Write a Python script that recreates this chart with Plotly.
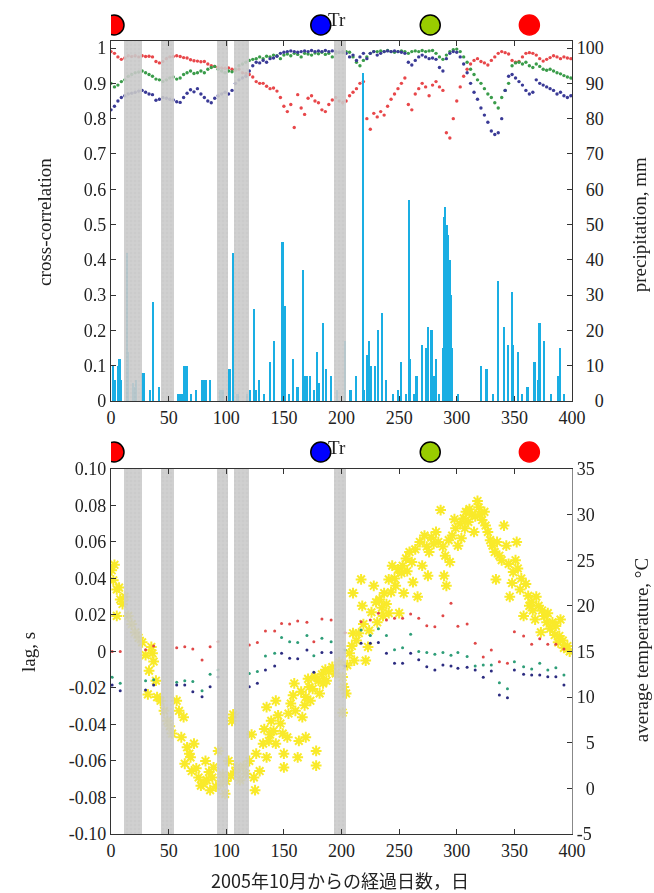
import plotly.graph_objects as go

# ---------------- data ----------------
corr_days = list(range(0, 400, 3))
corr_red = [0.99, 0.985, 0.975, 0.968, 0.972, 0.978, 0.976, 0.978, 0.975, 0.978,
            0.976, 0.977, 0.975, 0.962, 0.958, 0.962, 0.97, 0.975, 0.976, 0.978,
            0.976, 0.973, 0.972, 0.967, 0.964, 0.963, 0.961, 0.962, 0.955, 0.95,
            0.948, 0.945, 0.944, 0.943, 0.944, 0.94, 0.937, 0.94, 0.93, 0.928,
            0.925, 0.918, 0.905, 0.9, 0.9, 0.892, 0.885, 0.887, 0.878, 0.86,
            0.835, 0.82, 0.84, 0.775, 0.868, 0.83, 0.812, 0.858, 0.865, 0.85,
            0.845, 0.825, 0.82, 0.84, 0.853, 0.86, 0.85, 0.845, 0.85, 0.865,
            0.875, 0.885, 0.9, 0.905, 0.8, 0.77, 0.815, 0.805, 0.82, 0.81,
            0.835, 0.855, 0.87, 0.885, 0.9, 0.915, 0.84, 0.825, 0.87, 0.885,
            0.9, 0.89, 0.865, 0.895, 0.905, 0.89, 0.88, 0.76, 0.745, 0.8,
            0.85, 0.89, 0.92, 0.94, 0.955, 0.965, 0.97, 0.962, 0.958, 0.952,
            0.965, 0.975, 0.985, 0.99, 0.987, 0.983, 0.965, 0.96, 0.962, 0.975,
            0.985, 0.987, 0.985, 0.98, 0.97, 0.963, 0.968, 0.973, 0.978, 0.975,
            0.97, 0.975, 0.972, 0.97]
corr_green = [0.9, 0.89, 0.895, 0.905, 0.91, 0.92, 0.925, 0.93, 0.932, 0.935,
              0.93, 0.925, 0.92, 0.912, 0.91, 0.905, 0.91, 0.915, 0.918, 0.912,
              0.915, 0.925, 0.93, 0.935, 0.928, 0.93, 0.935, 0.93, 0.94, 0.945,
              0.948, 0.94, 0.935, 0.93, 0.935, 0.933, 0.94, 0.95, 0.955, 0.96,
              0.965, 0.968, 0.97, 0.975, 0.97, 0.977, 0.975, 0.98, 0.978, 0.97,
              0.98, 0.983, 0.978, 0.985, 0.982, 0.975, 0.985, 0.983, 0.98, 0.986,
              0.984, 0.988, 0.982, 0.985, 0.975, 0.985, 0.988, 0.987, 0.99, 0.988,
              0.975, 0.96, 0.95, 0.965, 0.975, 0.985, 0.99, 0.99, 0.992, 0.99,
              0.993, 0.99, 0.988, 0.99, 0.992, 0.99, 0.985, 0.99, 0.992, 0.99,
              0.993, 0.99, 0.992, 0.993, 0.985, 0.975, 0.968, 0.98, 0.99, 0.995,
              0.997, 0.99, 0.975, 0.96, 0.94, 0.925, 0.91, 0.9, 0.885, 0.87,
              0.86, 0.845, 0.83, 0.86, 0.88, 0.9, 0.95, 0.958, 0.96, 0.955,
              0.96, 0.95, 0.945, 0.955, 0.948, 0.94, 0.937, 0.94, 0.935, 0.93,
              0.927, 0.922, 0.918, 0.915]
corr_blue = [0.825, 0.835, 0.85, 0.86, 0.865, 0.87, 0.872, 0.875, 0.878, 0.88,
             0.875, 0.87, 0.868, 0.852, 0.855, 0.86, 0.858, 0.855, 0.853, 0.848,
             0.846, 0.86, 0.872, 0.882, 0.876, 0.885, 0.87, 0.86, 0.85, 0.845,
             0.858, 0.865, 0.87, 0.875, 0.87, 0.88, 0.9, 0.91, 0.915, 0.92,
             0.935, 0.95, 0.96, 0.958, 0.965, 0.96, 0.97, 0.972, 0.977, 0.985,
             0.988, 0.99, 0.992, 0.99, 0.988, 0.99, 0.992, 0.99, 0.993, 0.99,
             0.992, 0.99, 0.993, 0.99, 0.992, 0.99, 0.988, 0.99, 0.985, 0.975,
             0.98, 0.965, 0.975, 0.985, 0.97, 0.985, 0.99, 0.98, 0.985, 0.99,
             0.992, 0.99, 0.992, 0.99, 0.988, 0.985, 0.96, 0.952, 0.965, 0.975,
             0.98, 0.975, 0.97, 0.972, 0.968, 0.945, 0.935, 0.97, 0.985, 0.99,
             0.988, 0.975, 0.955, 0.93, 0.9, 0.875, 0.855, 0.83, 0.81, 0.79,
             0.765, 0.755, 0.76, 0.8, 0.88, 0.92, 0.925, 0.915, 0.905, 0.895,
             0.88, 0.87, 0.875, 0.91, 0.9, 0.895, 0.89, 0.885, 0.88, 0.87,
             0.875, 0.865, 0.86, 0.865]

precip_days = [2, 3, 4, 6, 7, 8, 9, 14, 15, 19, 20, 22, 27, 29, 34, 37, 42, 58, 60, 62,
               64, 65, 66, 70, 74, 79, 81, 83, 86, 95, 97, 103, 106, 110, 118, 121, 124, 126, 129, 133,
               138, 142, 149, 151, 155, 158, 162, 167, 169, 170, 173, 176, 179, 181, 184, 187, 191, 196, 203, 208,
               213, 219, 220, 222, 224, 226, 229, 232, 235, 239, 245, 249, 252, 256, 259, 260, 263, 265, 266, 270,
               274, 275, 278, 279, 280, 282, 285, 288, 289, 290, 291, 292, 293, 294, 295, 296, 301, 321, 326, 332,
               336, 341, 345, 348, 349, 353, 357, 361, 362, 367, 368, 371, 372, 376, 382, 388, 390, 393]
precip_mm = [10, 4, 6, 10, 12, 12, 6, 42, 14, 5, 4, 6, 8, 8, 3, 28, 4, 2, 2, 2,
             10, 7, 10, 2, 3, 6, 6, 6, 6, 3, 3, 9, 42, 2, 2, 3, 26, 3, 6, 2,
             11, 17, 45, 27, 2, 12, 4, 37, 7, 7, 7, 3, 14, 5, 22, 9, 7, 3, 17, 3,
             7, 93, 3, 13, 17, 10, 10, 20, 25, 6, 2, 3, 11, 2, 57, 12, 2, 7, 7, 16,
             15, 21, 20, 20, 7, 12, 2, 15, 52, 55, 45, 50, 47, 40, 30, 15, 2, 10, 9, 2,
             34, 21, 16, 31, 16, 14, 2, 4, 4, 11, 11, 6, 22, 17, 2, 7, 15, 2]

lag_days = [1, 8, 30, 37, 57, 64, 71, 79, 86, 93, 120, 127, 134, 142, 148, 155, 162, 170, 176, 183,
            191, 203, 217, 225, 232, 239, 246, 253, 260, 267, 274, 281, 288, 295, 301, 309, 316, 323, 330, 337,
            344, 350, 358, 365, 372, 379, 386, 393]
lag_red = [0.000, 0.000, 0.001, 0.003, 0.002, 0.0026, 0.0014, -0.0047, 0.0026, 0.0054,
           0.0036, 0.0049, 0.0112, 0.0112, 0.0154, 0.0150, 0.0167, 0.016, 0.0054, 0.0178,
           0.0173, 0.0103, 0.0163, 0.0173, 0.0209, 0.0173, 0.0182, 0.0182, 0.0205, 0.0182,
           0.0141, 0.0136, 0.0196, 0.0264, 0.0138, 0.015, 0.0045, -0.003, 0.0008, -0.0056,
           -0.0064, 0.0108, 0.0085, 0.004, 0.007, 0.004, 0.004, 0.0014]
lag_green = [-0.0141, -0.0174, -0.016, -0.0155, -0.0169, -0.016, -0.0165, -0.0215, -0.0125, -0.0101,
             -0.012, -0.011, -0.0025, -0.001, 0.0076, 0.0054, 0.0049, 0.0087, -0.0023, 0.0072,
             0.0054, 0.0008, 0.0118, 0.0087, 0.0125, 0.0087, 0.001, 0.0021, 0.0094, 0.0,
             -0.0005, -0.0015, -0.0005, -0.002, -0.0005, -0.0028, -0.0079, -0.0074, -0.0074, -0.0171,
             -0.0204, -0.0056, -0.0083, -0.0096, -0.0064, -0.0101, -0.0089, -0.0129]
lag_blue = [-0.0184, -0.0215, -0.0211, -0.0184, -0.0184, -0.0184, -0.022, -0.0248, -0.0193, -0.014,
            -0.0193, -0.0174, -0.0101, -0.0079, -0.001, -0.0037, -0.004, 0.0008, -0.0114, -0.0005,
            -0.0005, -0.0079, 0.0045, 0.0045, 0.0049, -0.001, -0.0064, -0.0064, -0.001, -0.0045,
            -0.0083, -0.0101, -0.0074, -0.008, -0.0092, -0.0087, -0.0101, -0.0141, -0.0107, -0.0238,
            -0.0253, -0.0101, -0.0125, -0.0129, -0.0129, -0.0138, -0.0138, -0.0184]

temp_days = [0.6, 2, 3, 5, 5, 7, 8, 10, 12, 15, 18, 21, 24, 27, 30, 32, 33, 35, 36, 37,
             39, 40, 43, 46, 49, 51, 53, 57, 59, 61, 63, 64, 66, 68, 69, 70, 72, 74, 76, 78,
             80, 82, 83, 85, 86, 88, 89, 91, 93, 95, 97, 99, 100, 102, 104, 105, 106, 108, 109, 112,
             115, 117, 120, 122, 124, 125, 126, 129, 132, 133, 135, 135, 137, 138, 139, 141, 143, 143, 145, 147,
             149, 150, 150, 153, 154, 156, 158, 159, 160, 162, 163, 165, 166, 168, 169, 169, 171, 172, 173, 175,
             177, 178, 178, 180, 181, 183, 184, 186, 187, 189, 192, 195, 198, 201, 201, 202, 204, 205, 207, 209,
             210, 210, 211, 213, 215, 217, 218, 219, 221, 223, 224, 226, 228, 230, 231, 233, 235, 236, 237, 239,
             241, 241, 243, 244, 246, 247, 249, 250, 252, 253, 254, 256, 257, 259, 261, 262, 264, 266, 268, 270,
             272, 274, 275, 276, 278, 280, 282, 284, 286, 288, 289, 290, 291, 293, 294, 296, 298, 299, 301, 303,
             304, 306, 307, 308, 310, 311, 313, 315, 316, 318, 319, 320, 322, 324, 325, 327, 329, 331, 333, 334,
             335, 337, 339, 341, 343, 345, 346, 348, 349, 351, 352, 353, 355, 356, 358, 360, 362, 363, 365, 366,
             368, 369, 371, 373, 374, 376, 378, 379, 381, 383, 385, 386, 388, 389, 390, 392, 393, 396, 398]
temp_c = [23.9, 22.8, 24.5, 21.8, 18.9, 22, 20.7, 20.2, 21, 18.9, 18, 17.1, 16.5, 16, 14.6, 10.3, 12.9, 15.5, 14.8, 13.9,
          11.8, 10, 9.6, 8.5, 7.4, 6.8, 6, 9.6, 8.5, 5.6, 7.8, 2.7, 4.5, 3.8, 3.4, 1.9, 4.9, 2.2, 1.2, 0.3,
          0.5, 3, 0.9, 1.8, -0.2, 1.2, 2.3, 0.2, 4.1, 0.5, 1.5, -0.6, 0.8, 3, 1.4, 7.4, 8.1, 1.8, 2.3, 0.9,
          2.4, 1.6, 3, 5.9, 1.2, -0.2, 3.8, 1.9, 4.9, 6.5, 3.4, 8.9, 5.2, 5.9, 7.4, 6.3, 9.6, 4.9, 8, 7.1,
          6, 3.8, 2.3, 5.6, 8.2, 9.3, 10.2, 11.5, 8.5, 3.4, 5.2, 10.6, 7.8, 9.1, 10, 5.6, 12, 11.1, 9.6, 10.9,
          12.2, 4.1, 2.5, 11.8, 10.4, 12.5, 11.5, 13, 11.8, 12.8, 13.3, 12.6, 13.8, 12.2, 8.3, 11.1, 10.4, 13.5, 14.8, 15.6,
          17, 21.4, 14, 16.2, 17, 22.9, 20, 18, 14, 15.5, 17.3, 19.3, 22.2, 20.4, 18.2, 20.7, 19.8, 18.9, 21.4, 20.2,
          22.9, 19.2, 21.5, 24.4, 23, 22.2, 24, 19.2, 23.6, 24.4, 21.4, 25.2, 23.8, 25.9, 24.8, 22.6, 26.2, 21, 27, 24.4,
          27.7, 26.5, 23.3, 25.9, 27.5, 26.8, 28.1, 27, 30.5, 26.5, 23.3, 25.5, 22.2, 27.2, 24.8, 27.7, 29.5, 28.5, 26.6, 29,
          27.4, 29.6, 28.5, 30.3, 29.2, 30.6, 30, 28.1, 29.8, 31.5, 30.8, 30, 29.4, 30.3, 28.8, 28.1, 27.2, 26.6, 25.9, 22.9,
          27, 25.5, 25, 28.8, 26.6, 24.6, 21, 22.5, 23.7, 25, 27, 24.1, 21.8, 23, 18.9, 22.4, 21.1, 20, 20.4, 19.5,
          18.5, 21, 20, 17.1, 19.5, 18.9, 18.2, 19.2, 17.5, 18.2, 16.8, 17.8, 16, 16.7, 18.5, 16.2, 15.4, 15.6, 15]

band_start = [11, 43.5, 92, 107, 193.5]
band_end = [26.5, 55, 101.5, 120, 204]

marker_days = [2.6, 182, 277, 363]
marker_colors = ['#ff0000', '#0000ff', '#99cc00', '#ff0000']
marker_edges = ['#000000', '#000000', '#000000', '#ff0000']

x_ticks = [0, 50, 100, 150, 200, 250, 300, 350, 400]
corr_ticks = [0, 0.1, 0.2, 0.3, 0.4, 0.5, 0.6, 0.7, 0.8, 0.9, 1.0]
corr_ticktext = ['0', '0.1', '0.2', '0.3', '0.4', '0.5', '0.6', '0.7', '0.8', '0.9', '1']
precip_ticks = [0, 10, 20, 30, 40, 50, 60, 70, 80, 90, 100]
# right-aligned labels (figure-space padding)
precip_ticktext = ['\u2007\u20070', '\u200710', '\u200720', '\u200730', '\u200740', '\u200750',
                   '\u200760', '\u200770', '\u200780', '\u200790', '100']
lag_ticks = [-0.10, -0.08, -0.06, -0.04, -0.02, 0, 0.02, 0.04, 0.06, 0.08, 0.10]
lag_ticktext = ['-0.10', '-0.08', '-0.06', '-0.04', '-0.02', '0', '0.02', '0.04', '0.06', '0.08', '0.10']
temp_ticks = [-5, 0, 5, 10, 15, 20, 25, 30, 35]
temp_ticktext = ['-5', '\u20070', '\u20075', '10', '15', '20', '25', '30', '35']

assert len(corr_red) == len(corr_days) == len(corr_green) == len(corr_blue)
assert len(precip_days) == len(precip_mm)
assert len(lag_days) == len(lag_red) == len(lag_green) == len(lag_blue)
assert len(temp_days) == len(temp_c)

# ---------------- figure ----------------
SERIF = 'Liberation Serif, Times New Roman, serif'
TOP_DOM = [0.546, 1.0]
BOT_DOM = [0.0, 0.4603]
FIG_W, FIG_H = 654, 893

fig = go.Figure()

# top panel: cross-correlation dots (y), precipitation bars (y2, above)
for vals, col in [(corr_red, '#e8474a'), (corr_green, '#3a9c4a'), (corr_blue, '#3a3a96')]:
    fig.add_trace(go.Scatter(x=corr_days, y=vals, mode='markers', xaxis='x', yaxis='y',
                             marker=dict(size=3.4, color=col), showlegend=False, hoverinfo='skip'))
fig.add_trace(go.Bar(x=precip_days, y=precip_mm, xaxis='x', yaxis='y2', width=1.4,
                     marker=dict(color='#1aaee3', line=dict(width=0)), showlegend=False))

# bottom panel: temperature (y4 base), lag dots (y3 overlay, above)
fig.add_trace(go.Scatter(x=temp_days, y=temp_c, mode='markers', xaxis='x2', yaxis='y4',
                         marker=dict(symbol='asterisk-open', size=9, color='#f9ea2a',
                                     line=dict(width=2.0, color='#f9ea2a')),
                         showlegend=False))
for vals, col in [(lag_red, '#e04848'), (lag_green, '#2e9e78'), (lag_blue, '#2c2c80')]:
    fig.add_trace(go.Scatter(x=lag_days, y=vals, mode='markers', xaxis='x2', yaxis='y3',
                             marker=dict(size=3.0, color=col), showlegend=False))

# hatched grey bands (on hidden overlay axes so they sit above the data)
band_mid = [(s + e) / 2 for s, e in zip(band_start, band_end)]
band_w = [e - s for s, e in zip(band_start, band_end)]
band_marker = dict(color='#c6c6c6', line=dict(width=0),
                   pattern=dict(shape='+', fgcolor='#dedede', bgcolor='#c6c6c6', size=4, solidity=0.25))
fig.add_trace(go.Bar(x=band_mid, y=[1.011] * len(band_mid), width=band_w, base=0, xaxis='x', yaxis='y5',
                     marker=band_marker, opacity=0.9, cliponaxis=False, showlegend=False, hoverinfo='skip'))
fig.add_trace(go.Bar(x=band_mid, y=[1.006] * len(band_mid), width=band_w, base=0, xaxis='x2', yaxis='y6',
                     marker=band_marker, opacity=0.9, cliponaxis=False, showlegend=False, hoverinfo='skip'))

tickfont = dict(family=SERIF, size=18, color='#222')
axcommon = dict(showgrid=False, zeroline=False, ticks='inside', ticklen=5, tickcolor='#333',
                showline=True, linecolor='#333', linewidth=1.2, tickfont=tickfont)

fig.update_layout(
    width=FIG_W, height=FIG_H,
    margin=dict(l=111, r=82, t=41, b=59),
    paper_bgcolor='white', plot_bgcolor='white',
    barmode='overlay', bargap=0,
    xaxis=dict(domain=[0, 1], anchor='y', range=[0, 400], tickvals=x_ticks, mirror='ticks', **axcommon),
    yaxis=dict(domain=TOP_DOM, anchor='x', range=[0, 1.02], tickvals=corr_ticks, ticktext=corr_ticktext,
               **axcommon),
    yaxis2=dict(overlaying='y', side='right', anchor='x', range=[0, 102], tickvals=precip_ticks,
                ticktext=precip_ticktext, **axcommon),
    yaxis5=dict(overlaying='y', anchor='x', range=[0, 1], visible=False),
    xaxis2=dict(domain=[0, 1], anchor='y4', range=[0, 400], tickvals=x_ticks, mirror='ticks', **axcommon),
    yaxis4=dict(domain=BOT_DOM, anchor='x2', side='right', range=[-5, 35], tickvals=temp_ticks,
                ticktext=temp_ticktext, **{**axcommon, 'linecolor': '#888'}),
    yaxis3=dict(overlaying='y4', side='left', anchor='x2', range=[-0.1, 0.1], tickvals=lag_ticks,
                ticktext=lag_ticktext, **axcommon),
    yaxis6=dict(overlaying='y4', anchor='x2', range=[0, 1], visible=False),
)

# season markers (pixel-sized circles anchored at a day position above each panel)
shapes = []
for d, c, ec in zip(marker_days, marker_colors, marker_edges):
    for ref, ya in (('x', 1.0202), ('x2', 0.4817)):
        shapes.append(dict(type='circle', xref=ref, yref='paper', xsizemode='pixel', ysizemode='pixel',
                           xanchor=d, yanchor=ya, x0=-10, x1=10, y0=-10, y1=10,
                           fillcolor=c, line=dict(color=ec, width=1.5), layer='above'))
fig.update_layout(shapes=shapes)

titlefont = dict(family=SERIF, size=19, color='#222')
ann = [
    dict(text='cross-correlation', x=-0.143, y=0.772, textangle=-90),
    dict(text='precipitation, mm', x=1.148, y=0.768, textangle=-90),
    dict(text='lag, s', x=-0.18, y=0.2295, textangle=-90),
    dict(text='average temperature, \u00b0C', x=1.15, y=0.232, textangle=-90),
    dict(text='Tr', x=0.49, y=1.0265, textangle=0),
    dict(text='Tr', x=0.49, y=0.488, textangle=0),
]
annotations = []
for a in ann:
    annotations.append(dict(xref='paper', yref='paper', showarrow=False, font=titlefont,
                            xanchor='center', yanchor='middle', **a))
annotations.append(dict(xref='paper', yref='paper', showarrow=False, x=0.497, y=-0.058,
                        xanchor='center', yanchor='middle', text='2005年10月からの経過日数，日',
                        font=dict(family='Noto Sans CJK JP', size=18, color='#222')))
fig.update_layout(annotations=annotations)

# remove the default page margin so the figure fills the 654x893 window exactly
fig.write_html('out.html', config={'displayModeBar': False},
               post_script="document.body.style.margin='0';document.body.style.overflow='hidden';")
